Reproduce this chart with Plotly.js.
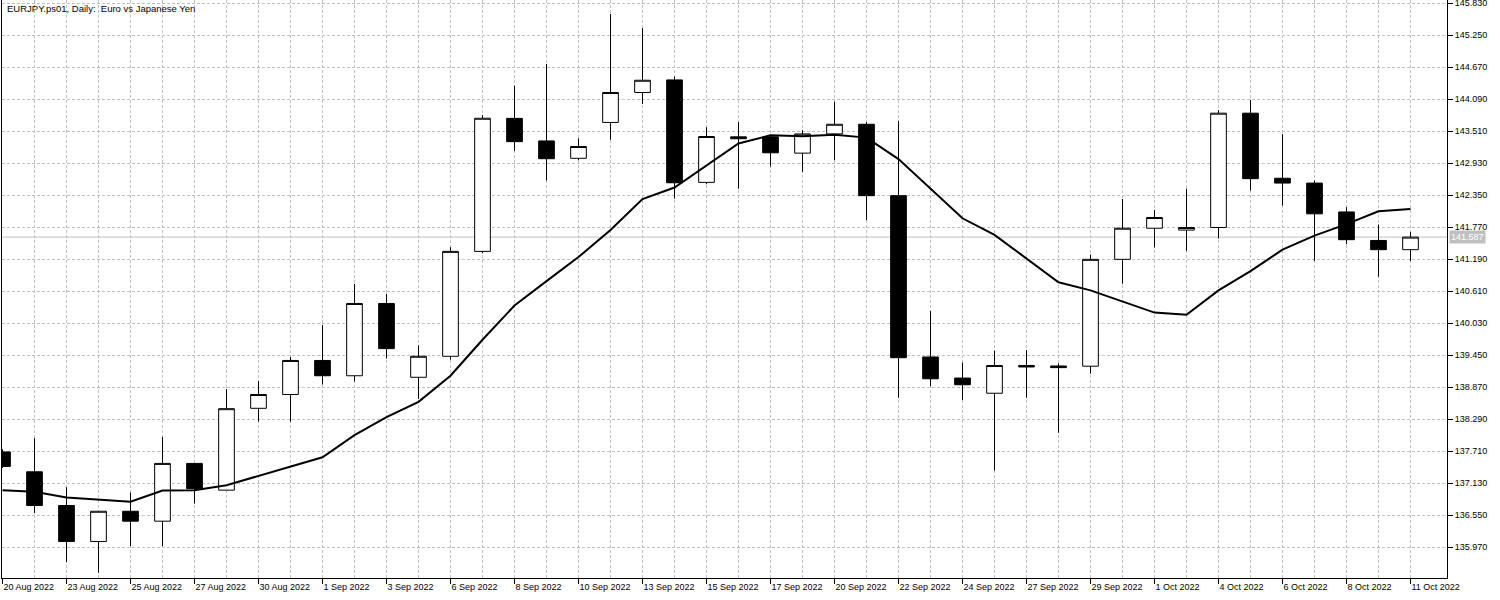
<!DOCTYPE html>
<html>
<head>
<meta charset="utf-8">
<script src="https://cdn.plot.ly/plotly-3.0.1.min.js"></script>
<style>
html,body{margin:0;padding:0;background:#ffffff;}
#chart{width:1500px;height:600px;}
</style>
</head>
<body>
<div id="chart"></div>
<script>
// ---- data ----
const chartTitle = 'EURJPY.ps01, Daily:\u00a0 Euro vs Japanese Yen';

const dates = [
  '20 Aug 2022','22 Aug 2022','23 Aug 2022','24 Aug 2022','25 Aug 2022','26 Aug 2022','27 Aug 2022',
  '29 Aug 2022','30 Aug 2022','31 Aug 2022','1 Sep 2022','2 Sep 2022','3 Sep 2022',
  '5 Sep 2022','6 Sep 2022','7 Sep 2022','8 Sep 2022','9 Sep 2022','10 Sep 2022',
  '12 Sep 2022','13 Sep 2022','14 Sep 2022','15 Sep 2022','16 Sep 2022','17 Sep 2022',
  '19 Sep 2022','20 Sep 2022','21 Sep 2022','22 Sep 2022','23 Sep 2022','24 Sep 2022',
  '26 Sep 2022','27 Sep 2022','28 Sep 2022','29 Sep 2022','30 Sep 2022','1 Oct 2022',
  '3 Oct 2022','4 Oct 2022','5 Oct 2022','6 Oct 2022','7 Oct 2022','8 Oct 2022',
  '10 Oct 2022','11 Oct 2022'
];

const openP = [
  137.693,137.333,136.722,136.070,136.618,136.438,137.485,
  137.000,138.484,138.734,139.351,139.074,140.384,
  139.046,139.427,141.328,143.739,143.330,143.015,
  143.665,144.208,144.436,142.579,143.404,143.404,
  143.109,143.457,143.632,142.338,139.414,139.032,
  138.757,139.260,139.251,139.247,141.184,141.748,
  141.714,141.761,143.833,142.653,142.566,142.043,
  141.526,141.359
];
const highP = [
  137.740,137.943,137.055,136.618,136.958,137.964,137.485,
  138.831,138.976,139.413,139.996,140.738,140.558,
  139.628,141.404,143.797,144.329,144.725,143.377,
  145.630,145.375,144.497,143.578,143.672,143.435,
  143.524,144.041,143.672,143.692,140.246,139.314,
  139.528,139.542,139.300,141.272,142.277,142.076,
  142.465,143.887,144.074,143.451,142.613,142.130,
  141.815,141.681
];
const lowP = [
  137.400,136.584,135.696,135.502,135.987,135.987,136.757,
  137.000,138.241,138.241,138.914,138.969,139.386,
  138.657,139.365,141.293,143.149,142.613,142.981,
  143.350,144.001,142.284,142.545,142.465,142.867,
  142.767,142.981,141.895,138.677,138.884,138.636,
  137.356,138.677,138.040,139.112,140.742,141.399,
  141.339,141.560,142.432,142.157,141.151,141.459,
  140.869,141.151
];
const closeP = [
  137.430,136.722,136.070,136.618,136.438,137.485,137.028,
  138.477,138.734,139.351,139.074,140.384,139.566,
  139.427,141.328,143.741,143.317,143.008,143.229,
  144.208,144.430,142.572,143.410,143.370,143.115,
  143.457,143.632,142.338,139.401,139.019,138.911,
  139.260,139.233,139.221,141.184,141.748,141.942,
  141.761,143.833,142.646,142.566,142.009,141.540,
  141.359,141.587
];
const maValues = [
  137.000,136.972,136.868,136.833,136.792,136.993,137.000,
  137.090,137.263,137.430,137.596,137.999,138.324,
  138.602,139.074,139.726,140.346,140.789,141.225,
  141.714,142.277,142.485,142.887,143.283,143.431,
  143.417,143.444,143.390,143.001,142.465,141.928,
  141.627,141.191,140.769,140.621,140.420,140.219,
  140.179,140.621,140.970,141.359,141.613,141.821,
  142.056,142.096
];
const priceTicks = [
  135.970,136.550,137.130,137.710,138.290,138.870,139.450,140.030,140.610,
  141.190,141.770,142.350,142.930,143.510,144.090,144.670,145.250,145.830
];

// ---- derived ----
const xIdx = dates.map((d, i) => i);
const majorVals = xIdx.filter(i => i % 2 === 0);
const minorVals = xIdx.filter(i => i % 2 === 1);
const majorText = majorVals.map(i => dates[i]);
const lastClose = closeP[closeP.length - 1];

const FONT = 'Liberation Sans, Arial, sans-serif';
const GRID = '#c0c0c0';
const DASH = '3px,2px';

const traces = [
  {
    type: 'candlestick',
    x: xIdx, open: openP, high: highP, low: lowP, close: closeP,
    increasing: {line: {color: '#000000', width: 1}, fillcolor: '#ffffff'},
    decreasing: {line: {color: '#000000', width: 1}, fillcolor: '#000000'},
    whiskerwidth: 0,
    hoverinfo: 'skip',
    showlegend: false
  },
  {
    type: 'scatter', mode: 'lines',
    x: xIdx, y: maValues,
    line: {color: '#000000', width: 2},
    hoverinfo: 'skip',
    showlegend: false
  }
];

const layout = {
  width: 1500, height: 600,
  margin: {l: 2, r: 53, t: 0, b: 22, pad: 0},
  paper_bgcolor: '#ffffff', plot_bgcolor: '#ffffff',
  showlegend: false,
  boxgap: 0.3,
  title: {
    text: chartTitle,
    x: 7 / 1500, xref: 'container', xanchor: 'left',
    y: 1 - 8.5 / 600, yref: 'container', yanchor: 'middle',
    font: {family: FONT, size: 9.5, color: '#000000'}
  },
  xaxis: {
    type: 'linear',
    range: [-0.5 / 32, -0.5 / 32 + 1445 / 32],
    tickmode: 'array', tickvals: majorVals, ticktext: majorText,
    ticklabelposition: 'outside right',
    ticklabeloverflow: 'allow',
    ticks: 'outside', ticklen: 5, tickcolor: '#000000', tickwidth: 1,
    tickfont: {family: FONT, size: 9, color: '#000000'},
    showgrid: true, gridcolor: GRID, gridwidth: 1, griddash: DASH,
    minor: {tickmode: 'array', tickvals: minorVals, showgrid: true, gridcolor: GRID, gridwidth: 1, griddash: DASH, ticks: ''},
    showline: true, linecolor: '#000000', linewidth: 1, mirror: false,
    zeroline: false, fixedrange: true,
    rangeslider: {visible: false}
  },
  yaxis: {
    side: 'right',
    range: [145.8844 - 578 * 0.58 / 32, 145.8844],
    tickmode: 'array', tickvals: priceTicks,
    ticktext: priceTicks.map(v => v.toFixed(3)),
    ticklabeloverflow: 'allow',
    ticks: 'outside', ticklen: 5, tickcolor: '#000000', tickwidth: 1,
    tickfont: {family: FONT, size: 9, color: '#000000'},
    showgrid: true, gridcolor: GRID, gridwidth: 1, griddash: DASH,
    showline: true, linecolor: '#000000', linewidth: 1, mirror: true,
    zeroline: false, fixedrange: true
  },
  shapes: [
    {type: 'line', xref: 'paper', x0: 0, x1: 1, yref: 'y', y0: lastClose, y1: lastClose,
     line: {color: '#c0c0c0', width: 1}, layer: 'below'}
  ],
  annotations: [
    {xref: 'paper', x: 1, xanchor: 'left', xshift: 2, yref: 'y', y: lastClose, yanchor: 'middle',
     text: lastClose.toFixed(3), showarrow: false, bgcolor: '#c0c0c0', borderpad: 1,
     font: {family: FONT, size: 9, color: '#ffffff'}}
  ]
};

Plotly.newPlot('chart', traces, layout, {displayModeBar: false, staticPlot: true});
</script>
</body>
</html>
